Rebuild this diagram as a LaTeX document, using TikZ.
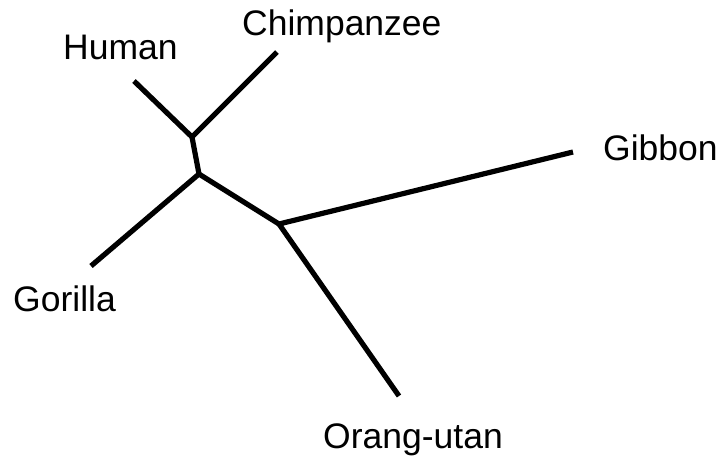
\documentclass[tikz,border=0pt]{standalone}
\usepackage{fontspec}
\setmainfont{Liberation Sans}
\begin{document}
\begin{tikzpicture}[x=1pt,y=-1pt,
  branch/.style={line width=5.2pt, black},
  taxon/.style={inner sep=0pt, anchor=base west, font=\fontsize{35.5}{40}\selectfont}]
\useasboundingbox (0,0) rectangle (721,456);
\coordinate (n1) at (192,137);
\coordinate (n2) at (199,174);
\coordinate (n3) at (279,224);
\coordinate (hu) at (134,81);
\coordinate (ch) at (277,52);
\coordinate (go) at (91,266);
\coordinate (gi) at (573,152);
\coordinate (or) at (399,396);
\node[taxon] (humanlbl) at (63,59) {Human};
\node[taxon] (chimplbl) at (242,35) {Chimpanzee};
\node[taxon] (gorillalbl) at (13,311) {Gorilla};
\node[taxon] (gibbonlbl) at (603,160) {Gibbon};
\node[taxon] (oranglbl) at (323,448) {Orang-utan};
\draw[branch] (hu) -- (n1) -- (ch);
\draw[branch] (n1) -- (n2);
\draw[branch] (go) -- (n2) -- (n3);
\draw[branch] (gi) -- (n3) -- (or);
\end{tikzpicture}
\end{document}
